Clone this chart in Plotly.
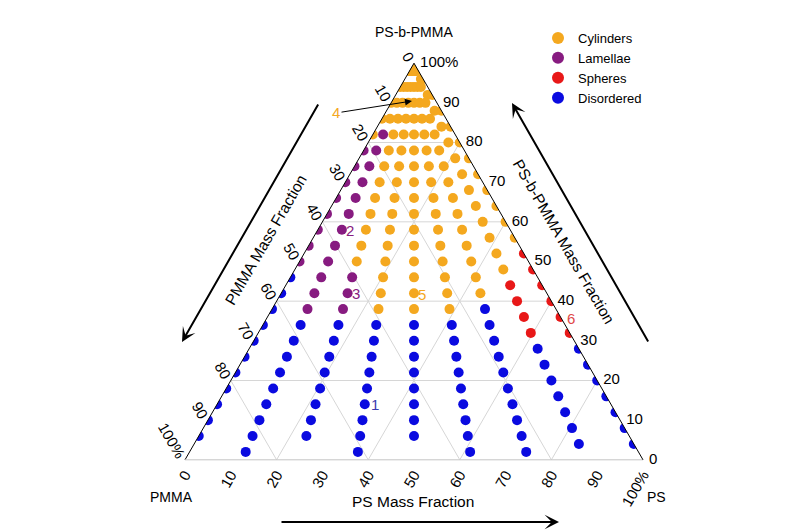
import plotly.graph_objects as go

# ---------------- data ----------------
# Ternary components: a = PS-b-PMMA (top), b = PMMA (bottom-left), c = PS (bottom-right)
# Samples lie on dilution lines from the PS-b-PMMA apex; each line has a fixed PS share
# (in % of the PS + PMMA homopolymer part) and a list of PS-b-PMMA mass fractions (%).
BCP_FROM_2 = [2, 6, 10, 14, 18, 22, 26, 30, 34, 38, 42, 46, 50, 54, 58, 62, 66, 70, 74, 78, 82, 86, 90, 94, 98]
BCP_FROM_6 = [6, 10, 14, 18, 22, 26, 30, 34, 38, 42, 46, 50, 54, 58, 62, 66, 70, 74, 78, 82, 86, 90, 94, 98]
BCP_FROM_4 = [4, 8, 12, 16, 20, 24, 28, 32, 36, 40, 44, 48, 52, 56, 60, 64, 68, 72, 76, 80, 84, 88, 92, 96]
BCP_FROM_4_TO_100 = [4, 8, 12, 16, 20, 24, 28, 32, 36, 40, 44, 48, 52, 56, 60, 64, 68, 72, 76, 80, 84, 88, 92, 96, 100]

ray_ps_share = [0, 12.5, 25, 37.5, 50, 62.5, 75, 87.5, 100]
ray_bcp = [BCP_FROM_6, BCP_FROM_2, BCP_FROM_6, BCP_FROM_2, BCP_FROM_6,
           BCP_FROM_2, BCP_FROM_2, BCP_FROM_4, BCP_FROM_4_TO_100]
# phase of each sample along the line (D disordered, L lamellae, S spheres, C cylinders)
ray_phase = [
    "DDDDDDDDDDDLLLLLLLLCCCCC",
    "DDDDDDDDDLLLLLLLLLLLLCCCC",
    "DDDDDDDDLLLCCCCCCCCCCCCC",
    "DDDDDDDDDCCCCCCCCCCCCCCCC",
    "DDDDDDDDCCCCCCCCCCCCCCCC",
    "DDDDDDDDDCCCCCCCCCCCCCCCC",
    "DDDDDDDDDDCCCCCCCCCCCCCCC",
    "DDDDDDDSSSSCCCCCCCCCCCCC",
    "DDDDDDDSSSSSSCCCCCCCCCCCC",
]

phase_order = ["C", "L", "S", "D"]
phase_names = {"C": "Cylinders", "L": "Lamellae", "S": "Spheres", "D": "Disordered"}
phase_colors = {"C": "#F4A81F", "L": "#871B80", "S": "#E81818", "D": "#0A0AE0"}

tick_vals = [0, 10, 20, 30, 40, 50, 60, 70, 80, 90, 100]
tick_text = ["100%", "90", "80", "70", "60", "50", "40", "30", "20", "10", "0"]
grid_levels = [20, 40, 60, 80]

# ---------------- figure ----------------
W, H = 800, 530
OFF = 8  # page margin of the html body
FONT = "Liberation Sans, Arial, sans-serif"
NBSP = "\u00a0"


def px(x):
    return (x - OFF) / W


def py(y):
    return 1 - (y - OFF) / H


fig = go.Figure()

# light grid lines every 20 %
ga, gb, gc = [], [], []
for v in grid_levels:
    ga += [v, v, None, 100 - v, 0, None, 100 - v, 0, None]
    gb += [100 - v, 0, None, v, v, None, 0, 100 - v, None]
    gc += [0, 100 - v, None, 0, 100 - v, None, v, v, None]
fig.add_trace(go.Scatterternary(a=ga, b=gb, c=gc, mode="lines",
                                line=dict(color="#d6d6d6", width=1),
                                hoverinfo="skip", showlegend=False))

pts = {p: {"a": [], "b": [], "c": []} for p in phase_order}
for share, levels, phases in zip(ray_ps_share, ray_bcp, ray_phase):
    assert len(levels) == len(phases)
    for a, ph in zip(levels, phases):
        c = share * (100 - a) / 100
        b = 100 - a - c
        pts[ph]["a"].append(a)
        pts[ph]["b"].append(b)
        pts[ph]["c"].append(c)

for ph in phase_order:
    fig.add_trace(go.Scatterternary(
        a=pts[ph]["a"], b=pts[ph]["b"], c=pts[ph]["c"], mode="markers",
        name=phase_names[ph],
        marker=dict(size=10, color=phase_colors[ph], line=dict(width=0)),
    ))

axis_common = dict(tickmode="array", tickvals=tick_vals,
                   showgrid=False, ticks="", linewidth=1,
                   tickfont=dict(family=FONT, size=15, color="black"),
                   title=dict(text=""))

fig.update_layout(
    width=W, height=H,
    margin=dict(l=0, r=0, t=0, b=0),
    paper_bgcolor="white",
    font=dict(family=FONT, color="black"),
    ternary=dict(
        sum=100,
        bgcolor="white",
        domain=dict(x=[px(185), px(643)], y=[py(460), py(63)]),
        aaxis=dict(axis_common, ticktext=tick_text, tickangle=60, linecolor="black"),
        baxis=dict(axis_common, ticktext=tick_text, tickangle=-60, linecolor="#c4c4c4"),
        caxis=dict(axis_common, ticktext=[NBSP + t for t in tick_text], tickangle=0,
                   linecolor="black"),
    ),
    legend=dict(x=px(538), y=py(23), xanchor="left", yanchor="top",
                font=dict(family=FONT, size=13, color="black"),
                bgcolor="rgba(0,0,0,0)", itemsizing="constant"),
    showlegend=True,
)

ann = []


def text_ann(txt, x, y, size=15, color="black", angle=0):
    ann.append(dict(text=txt, x=px(x), y=py(y), xref="paper", yref="paper",
                    showarrow=False, textangle=angle,
                    font=dict(family=FONT, size=size, color=color),
                    xanchor="center", yanchor="middle"))


def arrow_ann(x0, y0, x1, y1, width=2, size=1.2):
    ann.append(dict(text="", x=px(x1), y=py(y1), xref="paper", yref="paper",
                    ax=x0 - x1, ay=y0 - y1, axref="pixel", ayref="pixel",
                    showarrow=True, arrowhead=3, arrowsize=size, arrowwidth=width,
                    arrowcolor="black", standoff=0, startstandoff=0))


# vertex titles
text_ann("PS-b-PMMA", 414, 32, 14)
text_ann("PMMA", 171, 497, 14)
text_ann("PS", 656, 497, 14)

# axis descriptions with arrows
text_ann("PS Mass Fraction", 413, 501, 15.5)
arrow_ann(280, 522, 559, 522)
text_ann("PMMA Mass Fraction", 265, 240, 15.5, angle=-60)
arrow_ann(319, 103, 182, 342)
text_ann("PS-b-PMMA Mass Fraction", 564, 241, 15.5, angle=60)
arrow_ann(649, 343, 512, 103)

# sample numbers
text_ann("2", 350, 230, 15, "#871B80")
text_ann("3", 356, 293, 15, "#871B80")
text_ann("5", 422, 294, 15, "#F4A81F")
text_ann("1", 375, 405, 15, "#3A3AB0")
text_ann("6", 571, 318, 15, "#E04848")
ann.append(dict(text="4", x=px(412), y=py(101), xref="paper", yref="paper",
                ax=336 - 412, ay=113 - 101, axref="pixel", ayref="pixel",
                showarrow=True, arrowhead=2, arrowsize=1.4, arrowwidth=1,
                arrowcolor="black", standoff=0,
                font=dict(family=FONT, size=15, color="#F4A81F")))

fig.update_layout(annotations=ann)

fig.write_html("out.html")
